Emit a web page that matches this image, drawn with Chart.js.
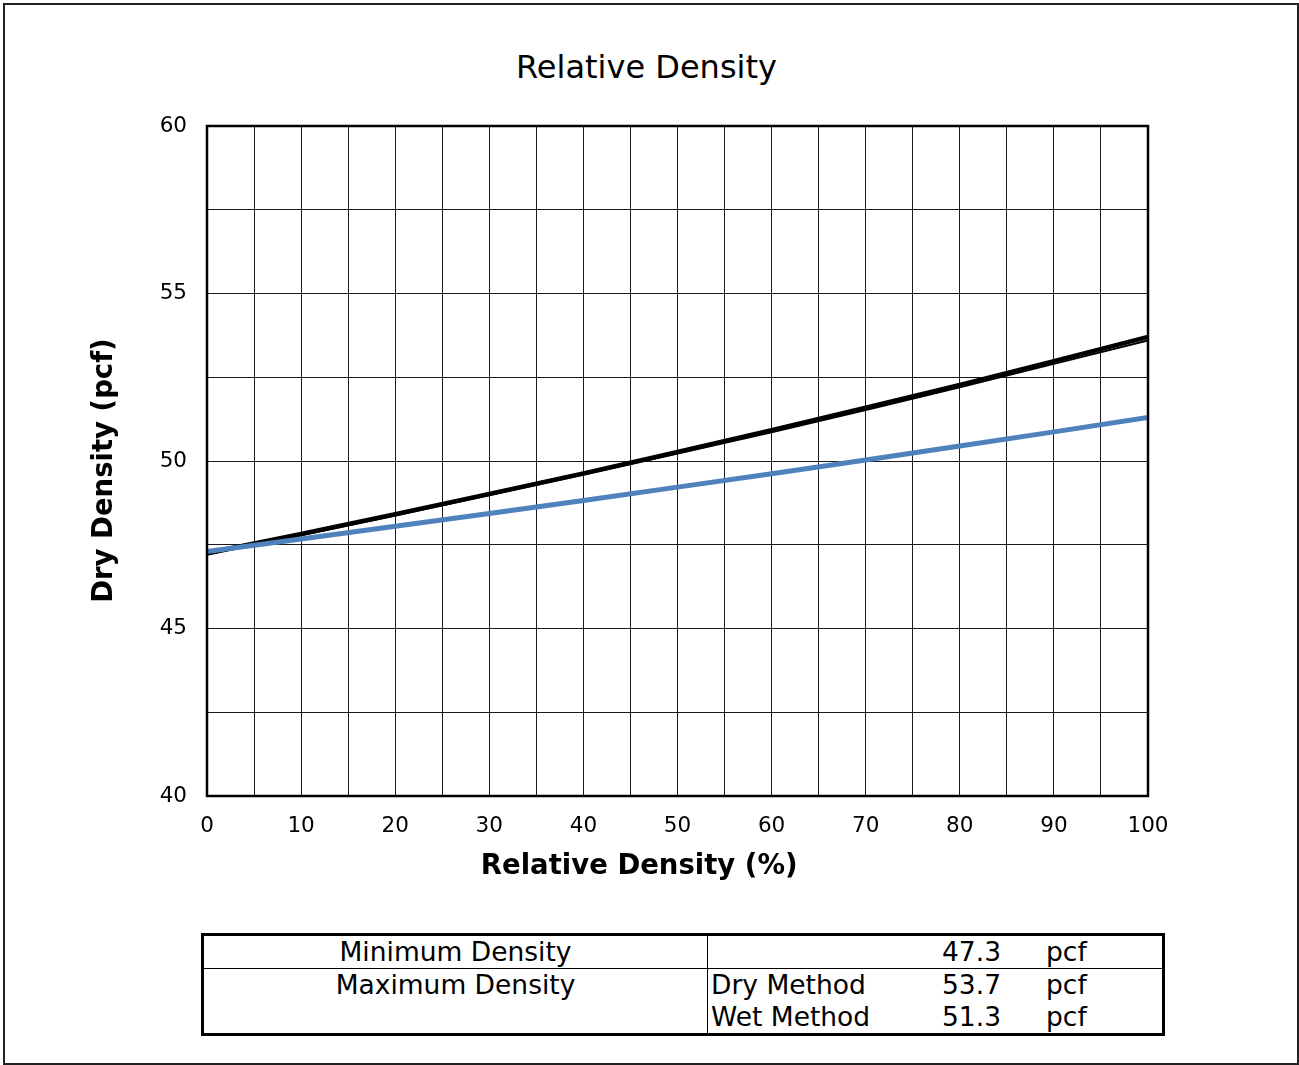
<!DOCTYPE html>
<html>
<head>
<title>Relative Density</title>
<script src="https://cdn.jsdelivr.net/npm/chart.js"></script>
<style>
    body { margin: 0; background: #fff; font-family: "DejaVu Sans", Verdana, sans-serif; }
    #frame { position: absolute; left: 3px; top: 3px; width: 1292px; height: 1058px; border: 2px solid #222; }
    #wrap { position: absolute; left: 0; top: 0; width: 1299px; height: 900px; }
    #title { position: absolute; left: 0; width: 1293px; top: 48px; text-align: center; font-size: 32px; }
    table { position: absolute; left: 201px; top: 933px; width: 964px; table-layout: fixed; border-collapse: collapse; border: 3px solid #000; font-size: 26.5px; }
    td { padding: 0 6px; height: 32px; line-height: 32px; white-space: nowrap; }
    .r1 td { border-bottom: 1px solid #000; }
    .c1 { width: 491px; text-align: center; vertical-align: top; border-right: 1px solid #000; }
    .c2 { width: 206px; padding-left: 3px; }
    .c3 { width: 72px; text-align: right; }
    .c4 { padding-left: 39px; }
</style>
</head>
<body>
<div id="frame"></div>
<div id="title">Relative Density</div>
<div id="wrap"><canvas id="chart"></canvas></div>

<table>
    <tr class="r1"><td class="c1">Minimum Density</td><td class="c2"></td><td class="c3">47.3</td><td class="c4">pcf</td></tr>
    <tr><td class="c1" rowspan="2">Maximum Density</td><td class="c2">Dry Method</td><td class="c3">53.7</td><td class="c4">pcf</td></tr>
    <tr><td class="c2">Wet Method</td><td class="c3">51.3</td><td class="c4">pcf</td></tr>
</table>

<script>
    // values
    const relDensity = [0, 10, 20, 30, 40, 50, 60, 70, 80, 90, 100];
    const dryMethod = [47.25, 47.82, 48.41, 49.02, 49.63, 50.27, 50.92, 51.59, 52.27, 52.98, 53.70];
    const dryMethod2 = [47.20, 47.78, 48.37, 48.98, 49.59, 50.22, 50.86, 51.52, 52.20, 52.90, 53.60];
    const wetMethod = [47.30, 47.67, 48.05, 48.43, 48.82, 49.22, 49.62, 50.03, 50.45, 50.87, 51.30];

    const xTicks = [0, 10, 20, 30, 40, 50, 60, 70, 80, 90, 100];
    const yTicks = [40, 45, 50, 55, 60];

    const toXY = vals => vals.map((v, i) => ({ x: relDensity[i], y: v }));

    // heavy frame round the plot area
    const plotBorder = {
        id: 'plotBorder',
        afterDraw(chart) {
            const a = chart.chartArea, ctx = chart.ctx;
            ctx.save();
            ctx.strokeStyle = '#000';
            ctx.lineWidth = 2.5;
            ctx.strokeRect(a.left, a.top, a.right - a.left, a.bottom - a.top);
            ctx.restore();
        }
    };

    const font = '"DejaVu Sans", Verdana, sans-serif';
    const nb = '\u00a0';

    new Chart(document.getElementById('chart'), {
        type: 'line',
        data: {
            datasets: [
                { label: 'Wet Method', data: toXY(wetMethod), borderColor: '#4F81BD', borderWidth: 5, pointRadius: 0, fill: false },
                { label: 'Dry Method 2', data: toXY(dryMethod2), borderColor: '#000', borderWidth: 2, pointRadius: 0, fill: false },
                { label: 'Dry Method', data: toXY(dryMethod), borderColor: '#000', borderWidth: 4.5, pointRadius: 0, fill: false }
            ]
        },
        options: {
            responsive: true,
            maintainAspectRatio: false,
            animation: false,
            layout: { padding: { left: 80, right: 151, top: 126, bottom: 0 } },
            plugins: {
                legend: { display: false },
                tooltip: { enabled: false }
            },
            scales: {
                x: {
                    type: 'linear',
                    min: 0, max: 100,
                    afterFit(s) { s.height = 104; },
                    afterBuildTicks(s) {
                        const t = [];
                        for (let v = 0; v <= 100; v += 5) t.push({ value: v });
                        s.ticks = t;
                    },
                    ticks: {
                        color: '#000',
                        font: { family: font, size: 21.5 },
                        padding: 18,
                        maxRotation: 0,
                        autoSkip: false,
                        callback: v => xTicks.includes(v) ? v : ''
                    },
                    grid: { color: '#1a1a1a', lineWidth: 1, drawTicks: false },
                    border: { display: false },
                    title: {
                        display: true,
                        text: 'Relative Density (%)' + nb.repeat(8),
                        color: '#000',
                        font: { family: font, size: 27.5, weight: 'bold' },
                        padding: { top: 0, bottom: 17 }
                    }
                },
                y: {
                    min: 40, max: 60,
                    afterFit(s) { s.width = 127; },
                    afterBuildTicks(s) {
                        const t = [];
                        for (let v = 40; v <= 60; v += 2.5) t.push({ value: v });
                        s.ticks = t;
                    },
                    ticks: {
                        color: '#000',
                        font: { family: font, size: 21.5 },
                        padding: 20,
                        autoSkip: false,
                        callback: v => yTicks.includes(v) ? v : ''
                    },
                    grid: { color: '#1a1a1a', lineWidth: 1, drawTicks: false },
                    border: { display: false },
                    title: {
                        display: true,
                        text: 'Dry Density (pcf)' + nb.repeat(2),
                        color: '#000',
                        font: { family: font, size: 27.5, weight: 'bold' },
                        padding: { top: 8, bottom: 0 }
                    }
                }
            }
        },
        plugins: [plotBorder]
    });
</script>
</body>
</html>
